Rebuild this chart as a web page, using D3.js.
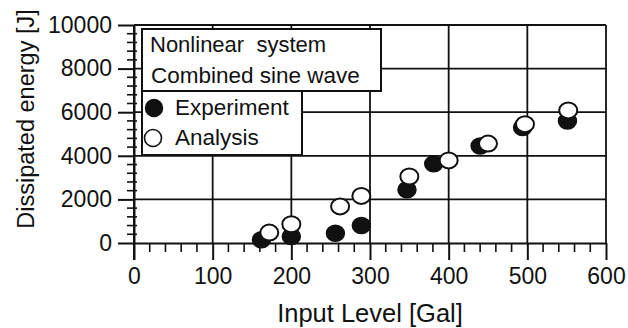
<!DOCTYPE html>
<meta charset="utf-8">
<script src="https://d3js.org/d3.v7.min.js"></script>
<style>
  body { margin: 0; background: #fff; }
  text { font-family: "Liberation Sans", Arial, Helvetica, sans-serif; fill: #111; }
</style>
<div id="chart"></div>
<script>
// data
var expLevel = [162, 200, 256, 289, 347, 381, 440, 494, 551];
var expEnergy = [150, 300, 450, 800, 2440, 3630, 4450, 5300, 5600];
var anaLevel = [172, 200, 262, 289, 350, 400, 450, 497, 552];
var anaEnergy = [480, 860, 1680, 2160, 3050, 3790, 4560, 5450, 6080];
var xTicks = [0, 100, 200, 300, 400, 500, 600];
var yTicks = [0, 2000, 4000, 6000, 8000, 10000];

var margin = { top: 25, right: 22, bottom: 85, left: 134 },
  width = 628 - margin.left - margin.right,
  height = 328 - margin.top - margin.bottom;

var svg = d3.select("#chart")
  .append("svg")
  .attr("width", 628)
  .attr("height", 328)
  .append("g")
  .attr("transform", "translate(" + margin.left + "," + margin.top + ")");

var x = d3.scaleLinear().domain([0, 600]).range([0, width]);
var y = d3.scaleLinear().domain([0, 10000]).range([height, 0]);

// grid lines (also make the top and right frame)
svg.selectAll(".vgrid")
  .data(xTicks.slice(1))
  .enter().append("line")
  .attr("x1", function (d) { return x(d); })
  .attr("x2", function (d) { return x(d); })
  .attr("y1", 0).attr("y2", height)
  .attr("stroke", "#111").attr("stroke-width", 1.8);

svg.selectAll(".hgrid")
  .data(yTicks.slice(1))
  .enter().append("line")
  .attr("x1", 0).attr("x2", width)
  .attr("y1", function (d) { return y(d); })
  .attr("y2", function (d) { return y(d); })
  .attr("stroke", "#111").attr("stroke-width", 1.8);

// minor ticks
var xMinor = d3.range(0, 601, 20).filter(function (d) { return d % 100 != 0; });
var yMinor = d3.range(0, 10001, 400).filter(function (d) { return d % 2000 != 0; });

svg.selectAll(".xminor")
  .data(xMinor)
  .enter().append("line")
  .attr("x1", function (d) { return x(d); })
  .attr("x2", function (d) { return x(d); })
  .attr("y1", height).attr("y2", height + 9)
  .attr("stroke", "#111").attr("stroke-width", 1.6);

svg.selectAll(".yminor")
  .data(yMinor)
  .enter().append("line")
  .attr("x1", -7).attr("x2", 3)
  .attr("y1", function (d) { return y(d); })
  .attr("y2", function (d) { return y(d); })
  .attr("stroke", "#111").attr("stroke-width", 1.6);

// axes
var xAxis = svg.append("g")
  .attr("transform", "translate(0," + height + ")")
  .call(d3.axisBottom(x).tickValues(xTicks).tickFormat(d3.format("d"))
    .tickSize(17).tickSizeOuter(0).tickPadding(8));
var yAxis = svg.append("g")
  .call(d3.axisLeft(y).tickValues(yTicks).tickFormat(d3.format("d"))
    .tickSize(16).tickSizeOuter(0).tickPadding(6));

[xAxis, yAxis].forEach(function (a) {
  a.select(".domain").attr("stroke", "#111").attr("stroke-width", 2);
  a.selectAll(".tick line").attr("stroke", "#111").attr("stroke-width", 2);
  a.selectAll(".tick text")
    .style("font-size", "23px")
    .style("font-family", "'Liberation Sans', Arial, sans-serif")
    .attr("fill", "#111");
});
// y axis line runs down to the x major tick
svg.append("line")
  .attr("x1", 0).attr("x2", 0)
  .attr("y1", 0).attr("y2", height + 17)
  .attr("stroke", "#111").attr("stroke-width", 2);

// axis titles
svg.append("text")
  .attr("x", x(300))
  .attr("y", height + 79)
  .attr("text-anchor", "middle")
  .style("font-size", "25.5px")
  .text("Input Level [Gal]");

svg.append("text")
  .attr("transform", "rotate(-90)")
  .attr("x", -(119 - margin.top))
  .attr("y", 34 - margin.left)
  .attr("text-anchor", "middle")
  .style("font-size", "23.5px")
  .text("Dissipated energy [J]");

// legend boxes
var lg = svg.append("g").attr("transform", "translate(" + (-margin.left) + "," + (-margin.top) + ")");
lg.append("rect")
  .attr("x", 142).attr("y", 29).attr("width", 239).attr("height", 62)
  .attr("fill", "#fff").attr("stroke", "#111").attr("stroke-width", 2);
lg.append("rect")
  .attr("x", 142).attr("y", 91).attr("width", 160).attr("height", 64)
  .attr("fill", "#fff").attr("stroke", "#111").attr("stroke-width", 2);

lg.append("text").attr("x", 150).attr("y", 52)
  .style("font-size", "22px").style("white-space", "pre")
  .text("Nonlinear  system");
lg.append("text").attr("x", 151).attr("y", 83)
  .style("font-size", "22.5px")
  .text("Combined sine wave");
lg.append("ellipse").attr("cx", 154).attr("cy", 108).attr("rx", 8.5).attr("ry", 8.5)
  .attr("fill", "#111").attr("stroke", "#111").attr("stroke-width", 1.5);
lg.append("text").attr("x", 175).attr("y", 115)
  .style("font-size", "22.5px")
  .text("Experiment");
lg.append("ellipse").attr("cx", 153).attr("cy", 138).attr("rx", 8.5).attr("ry", 8.5)
  .attr("fill", "#fff").attr("stroke", "#111").attr("stroke-width", 1.6);
lg.append("text").attr("x", 175).attr("y", 145)
  .style("font-size", "22.5px")
  .text("Analysis");

// points
var expData = expLevel.map(function (d, i) { return { x: d, y: expEnergy[i] }; });
var anaData = anaLevel.map(function (d, i) { return { x: d, y: anaEnergy[i] }; });

svg.selectAll(".exp")
  .data(expData)
  .enter().append("ellipse")
  .attr("cx", function (d) { return x(d.x); })
  .attr("cy", function (d) { return y(d.y); })
  .attr("rx", 9).attr("ry", 8)
  .attr("fill", "#111").attr("stroke", "#111").attr("stroke-width", 1.5);

svg.selectAll(".ana")
  .data(anaData)
  .enter().append("ellipse")
  .attr("cx", function (d) { return x(d.x); })
  .attr("cy", function (d) { return y(d.y); })
  .attr("rx", 9).attr("ry", 8)
  .attr("fill", "#fff").attr("stroke", "#111").attr("stroke-width", 2);
</script>
